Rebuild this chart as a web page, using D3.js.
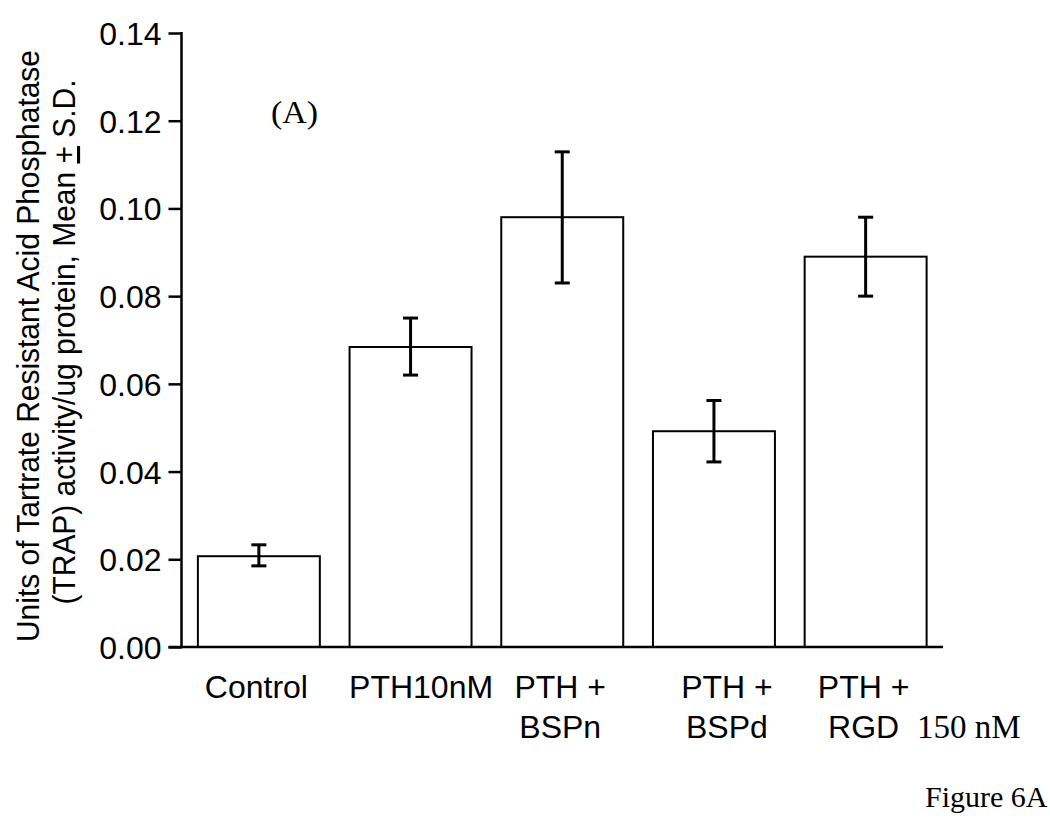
<!DOCTYPE html>
<html>
<head>
<meta charset="utf-8">
<script src="https://cdn.jsdelivr.net/npm/d3@7"></script>
<style>
  html, body { margin: 0; padding: 0; background: #fff; }
  svg { display: block; }
</style>
</head>
<body>
<svg id="chart" width="1050" height="821"></svg>
<script>
// ---- data ----
const categories = ["Control", "PTH10nM", "PTH+BSPn", "PTH+BSPd", "PTH+RGD"];
const labelLines = [["Control"], ["PTH10nM"], ["PTH +", "BSPn"], ["PTH +", "BSPd"], ["PTH +", "RGD"]];
const means = [0.0207, 0.0684, 0.0980, 0.0492, 0.0890];
const errLow = [0.0185, 0.0620, 0.0830, 0.0422, 0.0800];
const errHigh = [0.0233, 0.0750, 0.1129, 0.0562, 0.0980];
const yTicks = [0.00, 0.02, 0.04, 0.06, 0.08, 0.10, 0.12, 0.14];

// ---- layout ----
const labelDx = [-2.5, 10.5, -2, 13, -2];
const svg = d3.select("#chart");
const x0 = 181.5, x1 = 943, yTop = 33, yBot = 647;
const sans = "'Liberation Sans', Arial, sans-serif";
const serif = "'Liberation Serif', 'Times New Roman', serif";

const x = d3.scaleBand().domain(categories).range([x0, x1])
  .paddingInner(0.196).paddingOuter(0.108);
const y = d3.scaleLinear().domain([0, 0.14]).range([yBot, yTop]);

// bars
svg.append("g").selectAll("rect").data(categories).join("rect")
  .attr("x", d => x(d))
  .attr("y", (d, i) => y(means[i]))
  .attr("width", x.bandwidth())
  .attr("height", (d, i) => y(0) - y(means[i]))
  .attr("fill", "#fff").attr("stroke", "#000").attr("stroke-width", 2);

// error bars
const eg = svg.append("g").attr("stroke", "#000").attr("stroke-width", 3);
categories.forEach((c, i) => {
  const cx = x(c) + x.bandwidth() / 2;
  eg.append("line").attr("x1", cx).attr("x2", cx).attr("y1", y(errLow[i])).attr("y2", y(errHigh[i]));
  [errLow[i], errHigh[i]].forEach(v => {
    eg.append("line").attr("x1", cx - 7.5).attr("x2", cx + 7.5).attr("y1", y(v)).attr("y2", y(v));
  });
});

// y axis
const yAxis = d3.axisLeft(y).tickValues(yTicks).tickFormat(d3.format(".2f"))
  .tickSize(13).tickPadding(7);
const ga = svg.append("g").attr("transform", `translate(${x0},0)`).call(yAxis);
ga.select(".domain").remove();
ga.selectAll(".tick line").attr("stroke", "#000").attr("stroke-width", 2.5);
ga.selectAll(".tick text").attr("font-family", sans).attr("font-size", 32).attr("fill", "#000")
  .attr("dy", "0.36em");

// axis lines
svg.append("line").attr("x1", x0).attr("x2", x0).attr("y1", yTop - 1).attr("y2", yBot + 1.2)
  .attr("stroke", "#000").attr("stroke-width", 2.5);
svg.append("line").attr("x1", x0 - 13).attr("x2", x1).attr("y1", yBot).attr("y2", yBot)
  .attr("stroke", "#000").attr("stroke-width", 2.5);

// x labels
categories.forEach((c, i) => {
  const cx = x(c) + x.bandwidth() / 2 + labelDx[i];
  labelLines[i].forEach((t, j) => {
    svg.append("text").attr("x", cx).attr("y", 698 + j * 40)
      .attr("text-anchor", "middle").attr("font-family", sans).attr("font-size", 32)
      .attr("fill", "#000").text(t);
  });
});

// y title
svg.append("text").attr("transform", "translate(39,346) rotate(-90)")
  .attr("text-anchor", "middle").attr("font-family", sans).attr("font-size", 31)
  .attr("textLength", 592).attr("lengthAdjust", "spacingAndGlyphs")
  .text("Units of Tartrate Resistant Acid Phosphatase");
const t2 = svg.append("text").attr("transform", "translate(75,342) rotate(-90)")
  .attr("text-anchor", "middle").attr("font-family", sans).attr("font-size", 31)
  .attr("textLength", 525).attr("lengthAdjust", "spacingAndGlyphs");
t2.append("tspan").text("(TRAP) activity/ug protein, Mean ");
t2.append("tspan").attr("text-decoration", "underline").text("+");
t2.append("tspan").text(" S.D.");

// annotations
svg.append("text").attr("x", 271).attr("y", 123).attr("font-family", serif)
  .attr("font-size", 32).attr("textLength", 47).attr("lengthAdjust", "spacingAndGlyphs").text("(A)");
svg.append("text").attr("x", 917).attr("y", 738).attr("font-family", serif)
  .attr("font-size", 33).text("150 nM");
svg.append("text").attr("x", 925).attr("y", 807).attr("font-family", serif)
  .attr("font-size", 30).text("Figure 6A");
</script>
</body>
</html>
